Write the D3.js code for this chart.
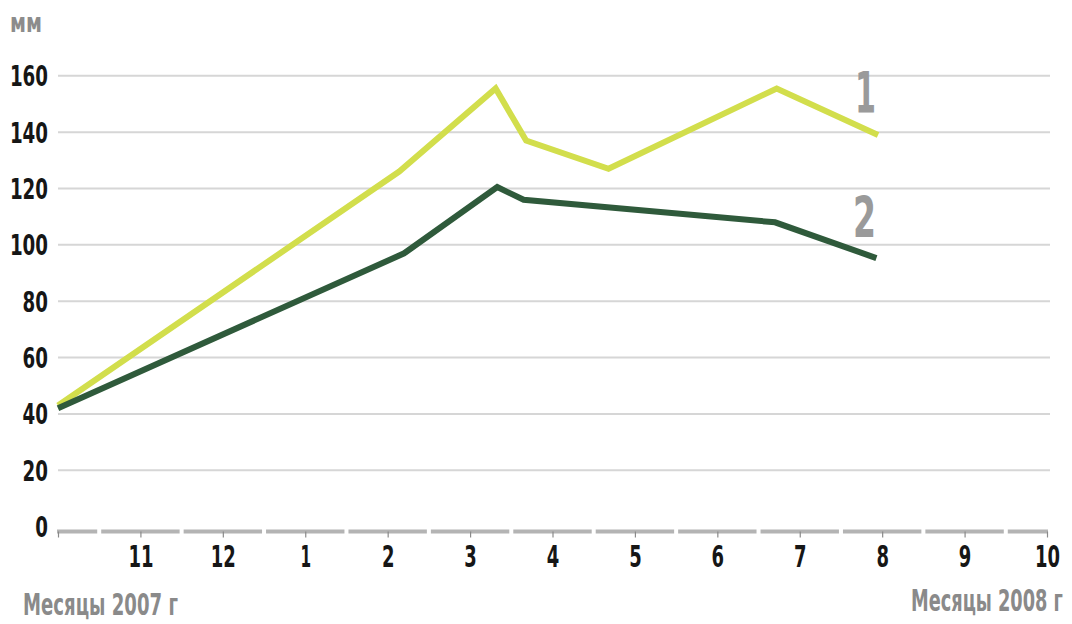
<!DOCTYPE html>
<html>
<head>
<meta charset="utf-8">
<script src="https://cdn.jsdelivr.net/npm/d3@7"></script>
<style>
	html, body { margin: 0; padding: 0; background: #fff; }
	svg text { font-family: "Liberation Sans Narrow", "DejaVu Sans Condensed", sans-serif; font-stretch: condensed; font-weight: bold; }
</style>
</head>
<body>
<svg id="chart" width="1072" height="624"></svg>
<script>
// month ticks, Oct 2007 .. Oct 2008 (first one has no label)
var monthLabels = ["", "11", "12", "1", "2", "3", "4", "5", "6", "7", "8", "9", "10"];
var yTicks = [0, 20, 40, 60, 80, 100, 120, 140, 160];

// x is in months from the start of the axis, values in mm
var series1X = [0, 4.14, 5.31, 5.68, 6.68, 8.72, 9.95];
var series1Y = [43, 126, 155.5, 137, 127, 155.5, 139];
var series2X = [0, 4.2, 5.33, 5.65, 8.7, 9.93];
var series2Y = [42, 97, 120.5, 116, 108, 95.3];

// the reference face is a narrow one, so squeeze the glyphs to its widths
function narrow(sel, perChar) {
	sel.each(function() {
		var t = d3.select(this), s = t.text();
		if (!s) return;
		var w = s.length * perChar;
		if (s === "1") w = perChar * 0.85;
		t.attr('textLength', w).attr('lengthAdjust', 'spacingAndGlyphs');
	});
}

// same idea for free-standing titles, done with a transform
function squeezed(svg, x, y, size, width, fill, str) {
	var g = svg.append('g');
	var t = g.append('text')
		.attr('fill', fill)
		.style('font-size', size + 'px')
		.text(str);
	var w = t.node().getComputedTextLength();
	g.attr('transform', 'translate(' + x + ',' + y + ') scale(' + (width / w) + ',1)');
	return t;
}

var chart = {
	left: 58,
	right: 1047,
	top: 75.8,
	bottom: 526.6,
	axisY: 531.5,
	init: function() {
		chart.svg = d3.select('#chart');
		chart.x = d3.scaleLinear().domain([0, 12]).range([chart.left, chart.right]);
		chart.y = d3.scaleLinear().domain([0, 160]).range([chart.bottom, chart.top]);

		chart.grid();
		chart.axes();
		chart.lines();
		chart.labels();
	},
	grid: function() {
		chart.svg.append('g')
			.attr('class', 'grid')
			.selectAll('line')
			.data(yTicks.filter(function(d) { return d > 0; }))
			.join('line')
			.attr('x1', chart.left)
			.attr('x2', chart.right + 3)
			.attr('y1', function(d) { return chart.y(d); })
			.attr('y2', function(d) { return chart.y(d); })
			.attr('stroke', '#d6d6d6')
			.attr('stroke-width', 2);
	},
	axes: function() {
		var x = chart.x;

		// bottom axis: one grey segment per month, small gaps between them
		var segs = d3.range(13).map(function(i) {
			return [Math.max(0, i - 0.5), Math.min(12, i + 0.5)];
		});
		chart.svg.append('g')
			.selectAll('line')
			.data(segs)
			.join('line')
			.attr('x1', function(d) { return x(d[0]) + (d[0] > 0 ? 2 : -1); })
			.attr('x2', function(d) { return x(d[1]) - (d[1] < 12 ? 2 : -1); })
			.attr('y1', chart.axisY)
			.attr('y2', chart.axisY)
			.attr('stroke', '#b4b4b4')
			.attr('stroke-width', 4);

		var xAxis = chart.svg.append('g')
			.attr('transform', 'translate(0,' + chart.axisY + ')')
			.call(d3.axisBottom(x)
				.tickValues(d3.range(13))
				.tickFormat(function(i) { return monthLabels[i]; })
				.tickSize(6));
		xAxis.select('.domain').remove();
		xAxis.selectAll('.tick line').attr('stroke', '#8a8a8a').attr('stroke-width', 1.2);
		xAxis.selectAll('.tick text')
			.attr('y', 35.5)
			.attr('dy', null)
			.attr('fill', '#161616')
			.style('font-size', '30px')
			.call(narrow, 12.5);

		var yAxis = chart.svg.append('g')
			.attr('transform', 'translate(48,0)')
			.call(d3.axisLeft(chart.y).tickValues(yTicks).tickSize(0).tickPadding(0));
		yAxis.select('.domain').remove();
		yAxis.selectAll('.tick text')
			.attr('dy', '0.36em')
			.attr('fill', '#161616')
			.style('font-size', '28px')
			.call(narrow, 12.7);
	},
	lines: function() {
		var line = d3.line()
			.x(function(d) { return chart.x(d[0]); })
			.y(function(d) { return chart.y(d[1]); });

		var s1 = d3.zip(series1X, series1Y),
			s2 = d3.zip(series2X, series2Y);

		chart.svg.append('path')
			.attr('d', line(s1))
			.attr('fill', 'none')
			.attr('stroke', '#d2de4c')
			.attr('stroke-width', 6)
			.attr('stroke-linejoin', 'miter');
		chart.svg.append('path')
			.attr('d', line(s2))
			.attr('fill', 'none')
			.attr('stroke', '#2f5a3b')
			.attr('stroke-width', 6)
			.attr('stroke-linejoin', 'miter');
	},
	labels: function() {
		var svg = chart.svg;
		squeezed(svg, 855, 113, 57, 21, '#9a9a9a', '1');
		squeezed(svg, 853, 238, 57, 23, '#9a9a9a', '2');
		squeezed(svg, 10, 32, 26, 32, '#8c8c8c', 'мм');
		squeezed(svg, 23, 615, 30, 155, '#8a8a8a', 'Месяцы 2007 г');
		squeezed(svg, 911, 611, 30, 152, '#8a8a8a', 'Месяцы 2008 г');
	}
};

chart.init();
</script>
</body>
</html>
